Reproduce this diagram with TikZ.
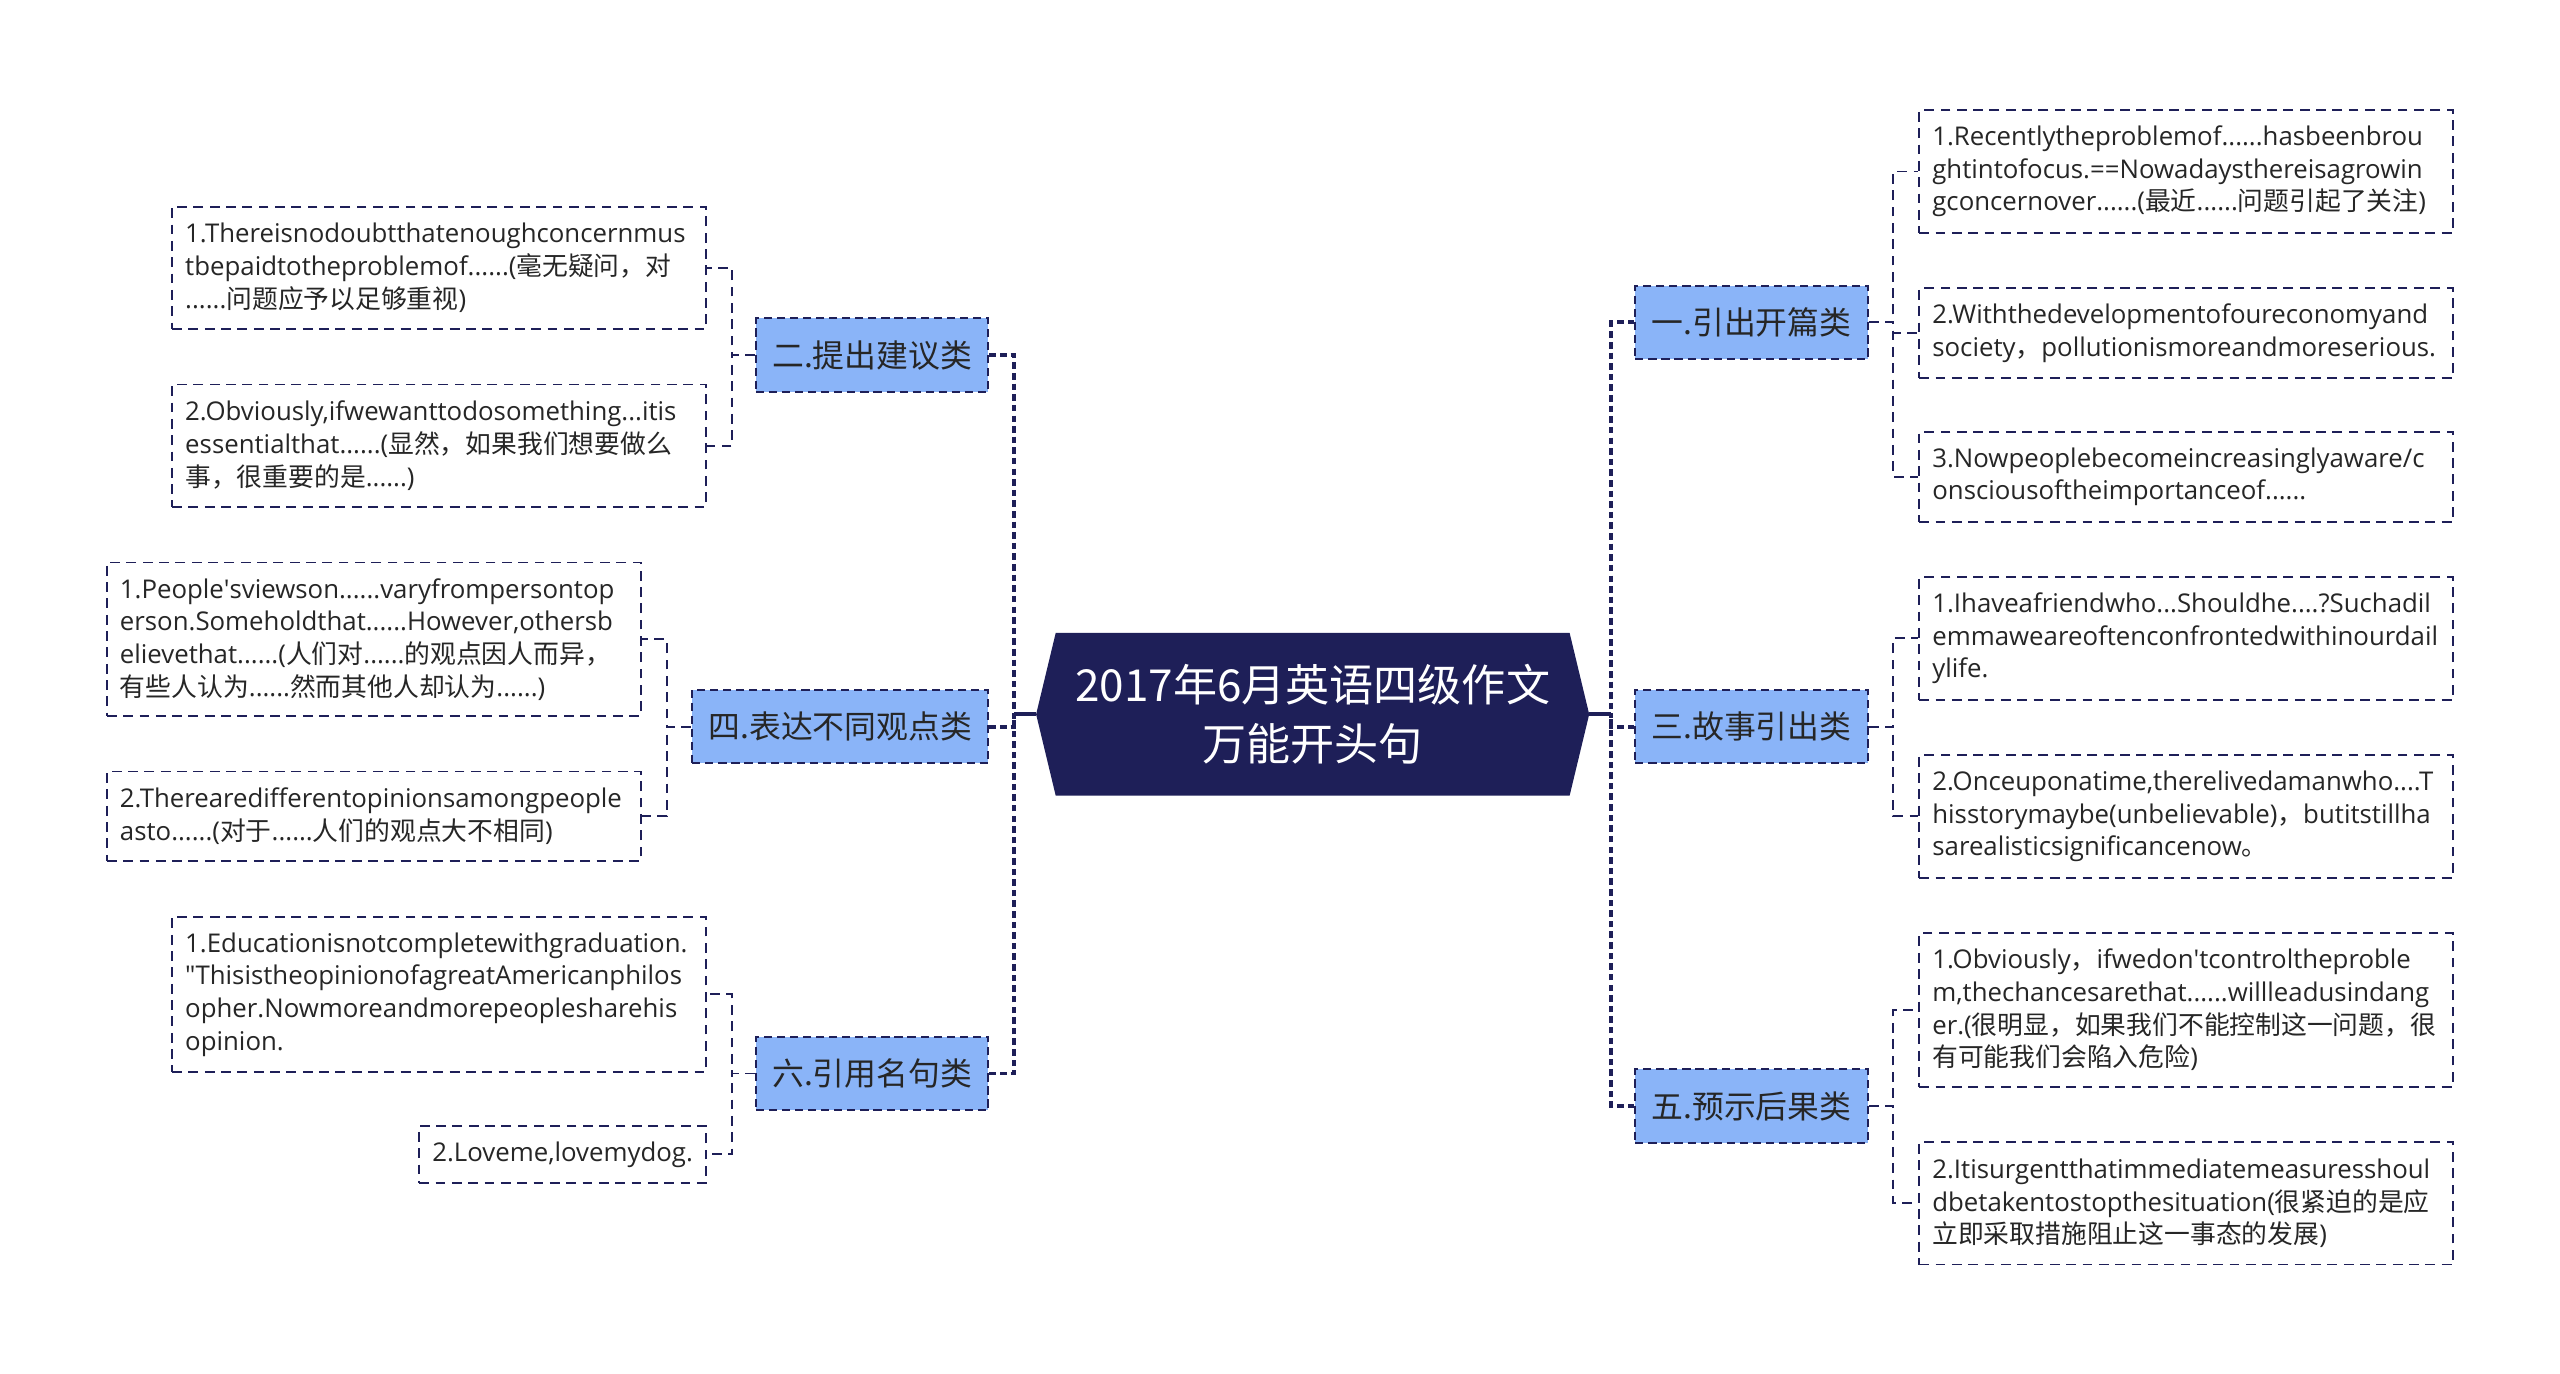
\documentclass[tikz,border=0pt]{standalone}
\usepackage{fontspec}
\setmainfont{Open Sans}
\newfontfamily\enfont{Open Sans}
\newfontfamily\zhfont{Noto Sans CJK SC}
\usetikzlibrary{backgrounds}
\definecolor{navy}{RGB}{30,31,88}
\definecolor{catblue}{RGB}{138,180,248}
\definecolor{txtgray}{RGB}{38,38,38}
\tikzset{every picture/.style={line width=0.75pt}}
\hyphenpenalty=10000
\exhyphenpenalty=10000

\begin{document}
\begin{tikzpicture}[x=1pt,y=1pt,yscale=-1,xscale=1,
  title/.style={text=white,font=\zhfont\fontsize{27}{36}\selectfont,align=center,minimum width=314,minimum height=99,inner sep=0pt},
  cat/.style={draw=navy,dash pattern=on 5pt off 3pt,line width=1.2pt,fill=catblue,font=\zhfont\fontsize{19.5}{24}\selectfont,text=txtgray,minimum height=45,inner xsep=10pt},
  leafbox/.style={draw=navy,dash pattern=on 6pt off 4pt,line width=1.1pt,fill=white,font=\fontsize{15.8}{20}\selectfont,text=txtgray,align=left,inner xsep=8pt},
  leaf/.style={leafbox,text width=311pt},
  bus/.style={draw=navy,line width=2.4pt,dash pattern=on 4pt off 2.5pt},
  twig/.style={draw=navy,line width=1.2pt,dash pattern=on 6pt off 4pt},
  trunk/.style={draw=navy,line width=2.4pt}]
\useasboundingbox (0,0) rectangle (1568,841);

% centre
\node[title] (title) at (804,437.5) {2017年6月英语四级作文\\万能开头句};
\coordinate (tl) at ([xshift=-12pt]title.west);
\coordinate (tr) at ([xshift=12pt]title.east);
\begin{scope}[on background layer]
\fill[white] (0,0) rectangle (1568,841);
\fill[navy] (tl) -- (title.north west) -- (title.north east) -- (tr) -- (title.south east) -- (title.south west) -- cycle;
\end{scope}

% categories
\node[cat,anchor=east] (c2) at (606,217.5) {二.提出建议类};
\node[cat,anchor=east] (c4) at (606,445) {四.表达不同观点类};
\node[cat,anchor=east] (c6) at (606,657.5) {六.引用名句类};
\node[cat,anchor=west] (c1) at (1001,197.5) {一.引出开篇类};
\node[cat,anchor=west] (c3) at (1001,445) {三.故事引出类};
\node[cat,anchor=west] (c5) at (1001,677.5) {五.预示后果类};

% left leaves
\node[leaf,anchor=north east,minimum height=75] (l2a) at (433,126) {1.Thereisnodoubtthatenoughconcernmus\\tbepaidtotheproblemof......({\zhfont 毫无疑问，对}\\......{\zhfont 问题应予以足够重视})};
\node[leaf,anchor=north east,minimum height=75] (l2b) at (433,235) {2.Obviously,ifwewanttodosomething...itis\\essentialthat......({\zhfont 显然，如果我们想要做么}\\{\zhfont 事，很重要的是}......)};
\node[leaf,anchor=north east,minimum height=94] (l4a) at (393,344) {1.People{\enfont '}sviewson......varyfrompersontop\\erson.Someholdthat......However,othersb\\elievethat......({\zhfont 人们对}......{\zhfont 的观点因人而异，}\\{\zhfont 有些人认为}......{\zhfont 然而其他人却认为}......)};
\node[leaf,anchor=north east,minimum height=55] (l4b) at (393,472) {2.Therearedifferentopinionsamongpeople\\asto......({\zhfont 对于}......{\zhfont 人们的观点大不相同})};
\node[leaf,anchor=north east,minimum height=95] (l6a) at (433,561) {1.Educationisnotcompletewithgraduation.\\{\enfont "}ThisistheopinionofagreatAmericanphilos\\opher.Nowmoreandmorepeoplesharehis\\opinion.};
\node[leafbox,anchor=north east,minimum height=35] (l6b) at (433,689) {2.Loveme,lovemydog.};

% right leaves
\node[leaf,anchor=north west,minimum height=75] (r1a) at (1175,67) {1.Recentlytheproblemof......hasbeenbrou\\ghtintofocus.==Nowadaysthereisagrowin\\gconcernover......({\zhfont 最近}......{\zhfont 问题引起了关注})};
\node[leaf,anchor=north west,minimum height=55] (r1b) at (1175,176) {2.Withthedevelopmentofoureconomyand\\society{\zhfont ，}pollutionismoreandmoreserious.};
\node[leaf,anchor=north west,minimum height=55] (r1c) at (1175,264) {3.Nowpeoplebecomeincreasinglyaware/c\\onsciousoftheimportanceof......};
\node[leaf,anchor=north west,minimum height=75] (r3a) at (1175,353) {1.Ihaveafriendwho...Shouldhe....?Suchadil\\emmaweareoftenconfrontedwithinourdail\\ylife.};
\node[leaf,anchor=north west,minimum height=75] (r3b) at (1175,462) {2.Onceuponatime,therelivedamanwho....T\\hisstorymaybe(unbelievable){\zhfont ，}butitstillha\\sarealisticsignificancenow{\zhfont 。}};
\node[leaf,anchor=north west,minimum height=94] (r5a) at (1175,571) {1.Obviously{\zhfont ，}ifwedon{\enfont '}tcontroltheproble\\m,thechancesarethat......willleadusindang\\er.({\zhfont 很明显，如果我们不能控制这一问题，很}\\{\zhfont 有可能我们会陷入危险})};
\node[leaf,anchor=north west,minimum height=75] (r5b) at (1175,699) {2.Itisurgentthatimmediatemeasuresshoul\\dbetakentostopthesituation({\zhfont 很紧迫的是应}\\{\zhfont 立即采取措施阻止这一事态的发展})};

% trunk and bus lines
\coordinate (lbus) at (621,437.5);
\coordinate (rbus) at (987,437.5);
\draw[trunk] (tl) -- (lbus);
\draw[trunk] (tr) -- (rbus);
\draw[bus] (c2.east) -| (lbus);
\draw[bus] (c4.east) -| (lbus);
\draw[bus] (c6.east) -| (lbus);
\draw[bus] (c1.west) -| (rbus);
\draw[bus] (c3.west) -| (rbus);
\draw[bus] (c5.west) -| (rbus);

% twigs to leaves
\draw[twig] (c2.west) -- ++(-14,0) |- (l2a.east);
\draw[twig] (c2.west) -- ++(-14,0) |- (l2b.east);
\draw[twig] (c4.west) -- ++(-15,0) |- (l4a.east);
\draw[twig] (c4.west) -- ++(-15,0) |- (l4b.east);
\draw[twig] (c6.west) -- ++(-14,0) |- (l6a.east);
\draw[twig] (c6.west) -- ++(-14,0) |- (l6b.east);
\draw[twig] (c1.east) -- ++(15,0) |- (r1a.west);
\draw[twig] (c1.east) -- ++(15,0) |- (r1b.west);
\draw[twig] (c1.east) -- ++(15,0) |- (r1c.west);
\draw[twig] (c3.east) -- ++(15,0) |- (r3a.west);
\draw[twig] (c3.east) -- ++(15,0) |- (r3b.west);
\draw[twig] (c5.east) -- ++(15,0) |- (r5a.west);
\draw[twig] (c5.east) -- ++(15,0) |- (r5b.west);

\end{tikzpicture}
\end{document}
